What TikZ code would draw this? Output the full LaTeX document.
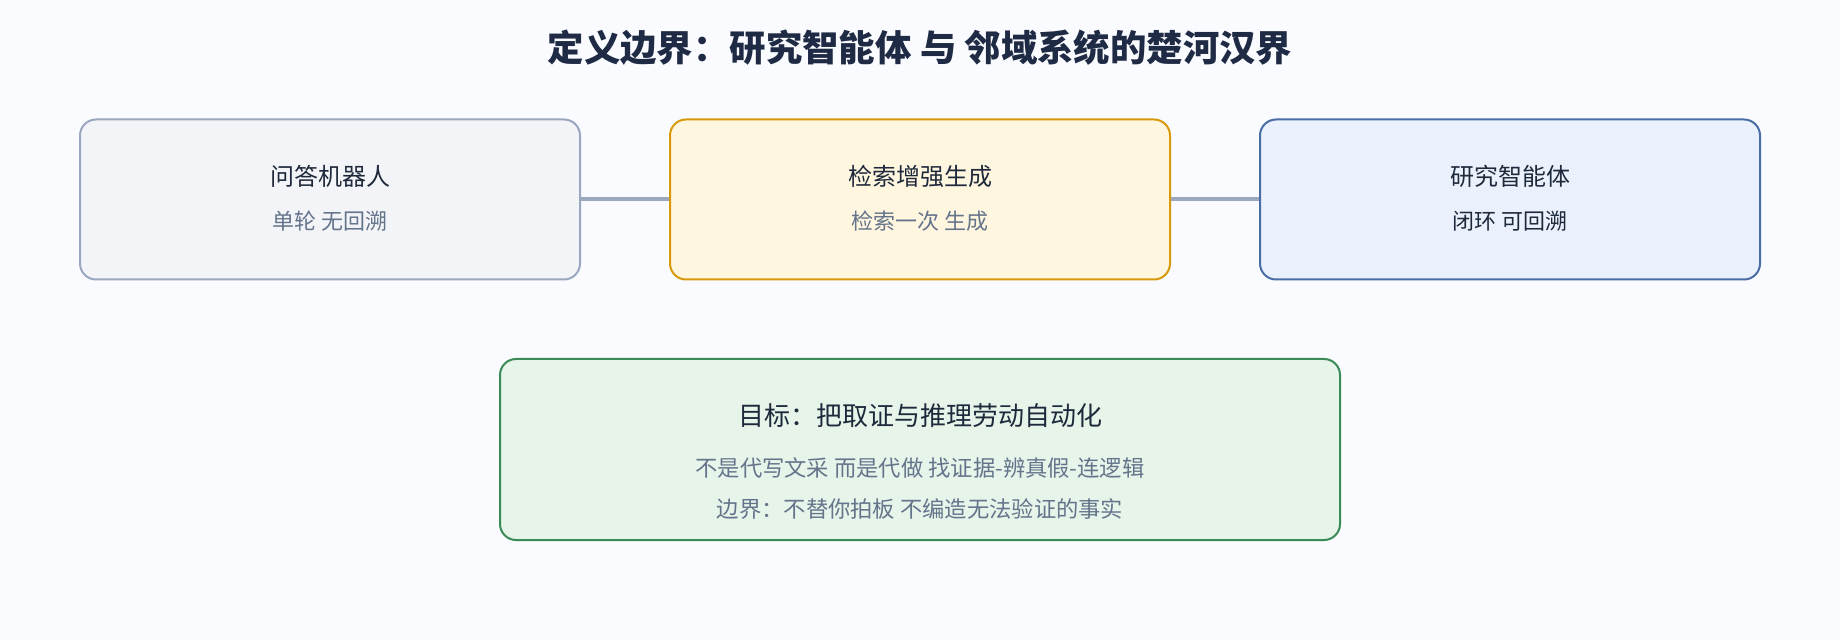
\documentclass[tikz,border=0pt]{standalone}
\usepackage{fontspec}
\setmainfont{Noto Sans CJK SC}
\newfontfamily\cjk{Noto Sans CJK SC}
\definecolor{bgc}{HTML}{F9FBFE}
\definecolor{titlec}{HTML}{1F2A44}
\definecolor{maintc}{HTML}{1E293B}
\definecolor{subtc}{HTML}{64748B}
\definecolor{fillA}{HTML}{F3F4F7}
\definecolor{drawA}{HTML}{9AA7C0}
\definecolor{fillB}{HTML}{FFF6E0}
\definecolor{drawB}{HTML}{D89A0C}
\definecolor{fillC}{HTML}{EAF1FC}
\definecolor{drawC}{HTML}{4A6DA7}
\definecolor{fillD}{HTML}{E6F4E9}
\definecolor{drawD}{HTML}{3B8A57}
\definecolor{connc}{HTML}{9BA8BF}
\tikzset{
  card/.style={draw, line width=1pt, rounded corners=8pt, inner sep=0pt},
  cardA/.style={card, fill=fillA, draw=drawA, minimum width=250pt, minimum height=80pt},
  cardB/.style={card, fill=fillB, draw=drawB, minimum width=250pt, minimum height=80pt},
  cardC/.style={card, fill=fillC, draw=drawC, minimum width=250pt, minimum height=80pt},
  cardD/.style={card, fill=fillD, draw=drawD, minimum width=420pt, minimum height=90.5pt},
  headtxt/.style={inner sep=0pt, text=maintc, font=\cjk\fontsize{12pt}{14pt}\selectfont},
  subtxt/.style={inner sep=0pt, text=subtc, font=\cjk\fontsize{11pt}{13pt}\selectfont},
  goalsub/.style={inner sep=0pt, text=subtc, font=\cjk\fontsize{11.15pt}{13pt}\selectfont},
  goaltxt/.style={inner sep=0pt, text=maintc, font=\cjk\fontsize{13pt}{15pt}\selectfont},
  titletxt/.style={inner sep=0pt, text=titlec, font=\cjk\bfseries\fontsize{18.2pt}{22pt}\selectfont},
  conn/.style={draw=connc, line width=2pt},
}
\begin{document}
\begin{tikzpicture}[x=0.5pt, y=-0.5pt]
\fill[bgc] (0,0) rectangle (1840,640);
\useasboundingbox (0,0) rectangle (1840,640);
\node[titletxt] (title) at (920,48) {定义边界：研究智能体 与 邻域系统的楚河汉界};
\node[cardA] (qa) at (330,199.5) {};
\node[cardB] (rag) at (920,199.5) {};
\node[cardC] (agent) at (1510,199.5) {};
\draw[conn] (qa.east) -- (rag.west);
\draw[conn] (rag.east) -- (agent.west);
\node[headtxt] (qah) at (330,176) {问答机器人};
\node[subtxt] (qas) at (330,221) {单轮 无回溯};
\node[headtxt] (ragh) at (920,176) {检索增强生成};
\node[subtxt] (rags) at (920,221) {检索一次 生成};
\node[headtxt] (agh) at (1510,176) {研究智能体};
\node[subtxt, text=maintc] (ags) at (1510,221) {闭环 可回溯};
\node[cardD] (goal) at (920,449.5) {};
\node[goaltxt] (goalh) at (920,416) {目标：把取证与推理劳动自动化};
\node[goalsub] (goal1) at (920,468) {不是代写文采 而是代做 找证据-辨真假-连逻辑};
\node[goalsub] (goal2) at (920,509) {边界：不替你拍板 不编造无法验证的事实};
\end{tikzpicture}
\end{document}
